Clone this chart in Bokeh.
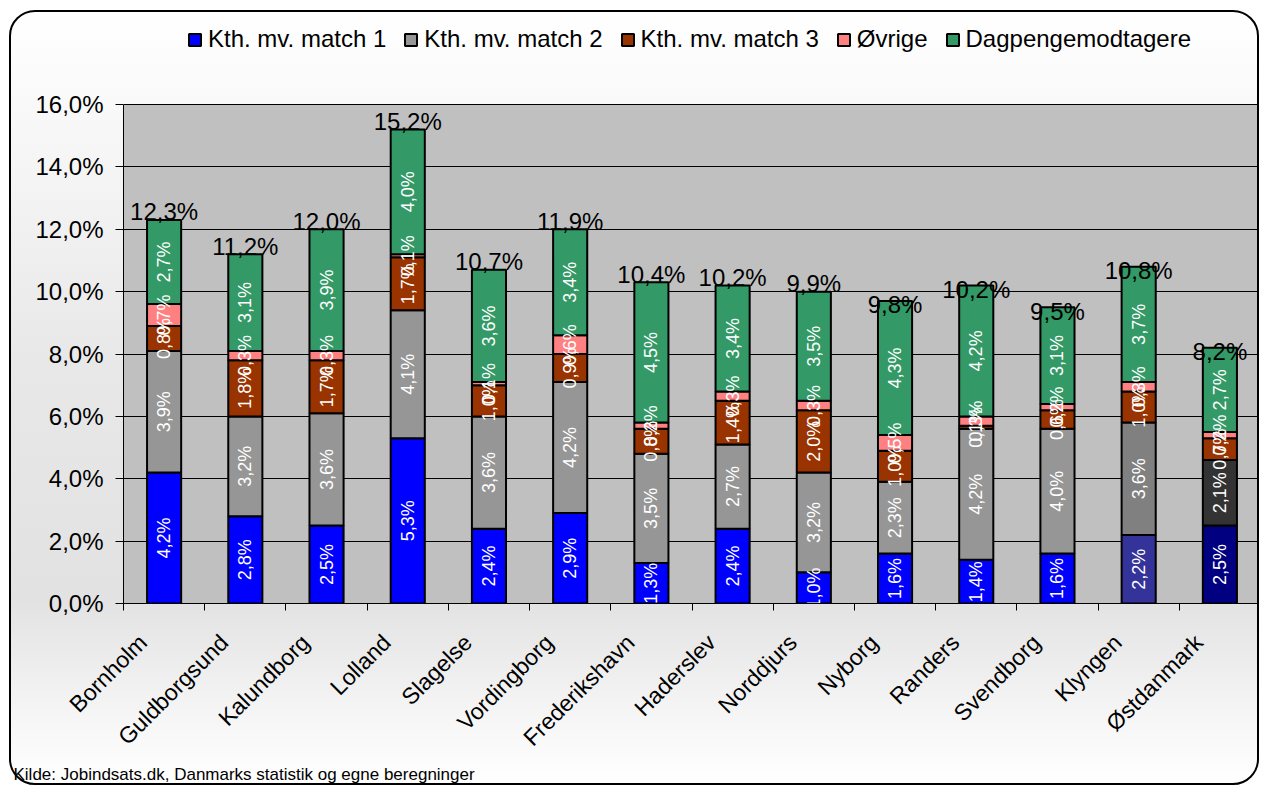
import math
import numpy as np
from bokeh.plotting import figure
from bokeh.models import (ColumnDataSource, Range1d, FixedTicker, Legend,
                          LegendItem, Title)
from bokeh.core.properties import value
from bokeh.embed import file_html
from bokeh.resources import INLINE

# ---------------- data ----------------
categories = ["Bornholm", "Guldborgsund", "Kalundborg", "Lolland", "Slagelse",
              "Vordingborg", "Frederikshavn", "Haderslev", "Norddjurs", "Nyborg",
              "Randers", "Svendborg", "Klyngen", "Østdanmark"]
series_names = ["Kth. mv. match 1", "Kth. mv. match 2", "Kth. mv. match 3",
                "Øvrige", "Dagpengemodtagere"]
match1 = [4.2, 2.8, 2.5, 5.3, 2.4, 2.9, 1.3, 2.4, 1.0, 1.6, 1.4, 1.6, 2.2, 2.5]
match2 = [3.9, 3.2, 3.6, 4.1, 3.6, 4.2, 3.5, 2.7, 3.2, 2.3, 4.2, 4.0, 3.6, 2.1]
match3 = [0.8, 1.8, 1.7, 1.7, 1.0, 0.9, 0.8, 1.4, 2.0, 1.0, 0.1, 0.6, 1.0, 0.7]
oevrige = [0.7, 0.3, 0.3, 0.1, 0.1, 0.6, 0.2, 0.3, 0.3, 0.5, 0.3, 0.2, 0.3, 0.2]
dagpenge = [2.7, 3.1, 3.9, 4.0, 3.6, 3.4, 4.5, 3.4, 3.5, 4.3, 4.2, 3.1, 3.7, 2.7]
totals = [12.3, 11.2, 12.0, 15.2, 10.7, 11.9, 10.4, 10.2, 9.9, 9.8, 10.2, 9.5, 10.8, 8.2]
y_ticks = [0, 2, 4, 6, 8, 10, 12, 14, 16]
source_text = "Kilde: Jobindsats.dk, Danmarks statistik og egne beregninger"

# ---------------- styles ----------------
FONT = "Liberation Sans"
n = len(categories)
series_colors = [
    ["#0000FF"] * 12 + ["#333399", "#000080"],
    ["#969696"] * 12 + ["#808080", "#333333"],
    ["#993300"] * n,
    ["#FF8080"] * n,
    ["#339966"] * n,
]
# vertical pixel offsets of total labels (as drawn in the original)
total_dy = [-8] * 9 + [4] * 5
LABEL_SHIFT = -0.26       # rotated category labels sit a little left of centre


def fmt(v):
    return f"{v:.1f}".replace(".", ",") + "%"


# layout (pixels, canvas coordinates)
W, H = 1250, 775
BORDER_TOP = 2            # frame starts near the top so the legend sits inside it
AXIS_TOP_PX = 92          # where the 16 % gridline lies
FRAME_BOTTOM_PX = 591
BORDER_BOTTOM = H - FRAME_BOTTOM_PX
y_max = y_ticks[-1]
y_end = y_max * (FRAME_BOTTOM_PX - BORDER_TOP) / (FRAME_BOTTOM_PX - AXIS_TOP_PX)

p = figure(width=W, height=H, output_backend="svg", toolbar_location=None,
           x_range=Range1d(0, n), y_range=Range1d(0, y_end),
           min_border_left=112, min_border_right=1,
           min_border_top=BORDER_TOP, min_border_bottom=BORDER_BOTTOM)
p.border_fill_color = None
p.background_fill_color = None
p.outline_line_color = None
p.styles = {
    "margin": "10px 0px 0px 9px",
    "border": "2px solid #000000",
    "border-radius": "26px",
    "background": "linear-gradient(180deg, #ffffff 0%, #fafafa 10%, #e8e8e8 45%, #e2e2e2 76%, #f4f4f4 90%, #ffffff 100%)",
}

# plot area background (grey box of the value range)
p.quad(left=0, right=n, bottom=0, top=y_max, fill_color="#C0C0C0",
       line_color=None, level="image")

# grid
p.xgrid.visible = False
p.ygrid.grid_line_color = "black"
p.ygrid.grid_line_width = 1
p.ygrid.ticker = FixedTicker(ticks=y_ticks)

# y axis
p.yaxis.ticker = FixedTicker(ticks=y_ticks)
p.yaxis.bounds = (0, y_max)
p.yaxis.major_label_overrides = {t: fmt(t) for t in y_ticks}
p.yaxis.major_label_text_font = FONT
p.yaxis.major_label_text_font_size = "24px"
p.yaxis.major_label_text_color = "black"
p.yaxis.major_tick_out = 8
p.yaxis.major_tick_in = 0
p.yaxis.minor_tick_line_color = None
p.yaxis.axis_line_color = "black"
p.yaxis.major_tick_line_color = "black"
p.yaxis.major_label_standoff = 12

# x axis
xs = [i + 0.5 for i in range(n)]
xlab = [x + LABEL_SHIFT for x in xs]
p.xaxis.ticker = FixedTicker(ticks=xlab, minor_ticks=list(range(n + 1)))
p.xaxis.major_label_overrides = {x: c for x, c in zip(xlab, categories)}
p.xaxis.major_label_orientation = math.pi / 4
p.xaxis.major_label_text_font = FONT
p.xaxis.major_label_text_font_size = "23px"
p.xaxis.major_label_text_color = "black"
p.xaxis.major_tick_out = 0
p.xaxis.major_tick_in = 0
p.xaxis.minor_tick_out = 7
p.xaxis.minor_tick_in = 0
p.xaxis.minor_tick_line_color = "black"
p.xaxis.axis_line_color = "black"
p.xaxis.major_label_standoff = 28

# stacked bars
series_vals = [match1, match2, match3, oevrige, dagpenge]
bottom = np.zeros(n)
renderers = []
label_sources = []
for vals, cols in zip(series_vals, series_colors):
    v = np.array(vals, dtype=float)
    top = bottom + v
    src = ColumnDataSource(dict(x=xs, bottom=bottom.copy(), top=top.copy(),
                                mid=(bottom + top) / 2, color=cols,
                                lbl=[fmt(a) for a in vals]))
    r = p.vbar(x="x", width=0.42, bottom="bottom", top="top", source=src,
               fill_color="color", line_color="black", line_width=2)
    renderers.append(r)
    label_sources.append(src)
    bottom = top

for src in label_sources:
    p.text(x="x", y="mid", text="lbl", source=src, angle=math.pi / 2,
           text_align="center", text_baseline="middle", text_color="white",
           text_font=value(FONT), text_font_size="18px")

tot_src = ColumnDataSource(dict(x=xs, y=bottom, lbl=[fmt(t) for t in totals],
                                dy=total_dy))
p.text(x="x", y="y", text="lbl", source=tot_src, y_offset="dy",
       text_align="center", text_baseline="alphabetic", text_color="black",
       text_font=value(FONT), text_font_size="24px")

# legend (inside the extended frame, above the grey plot area)
legend = Legend(items=[LegendItem(label=nm, renderers=[r], index=0)
                       for nm, r in zip(series_names, renderers)],
                orientation="horizontal", location=(64, 550),
                glyph_width=15, glyph_height=15, label_standoff=6, spacing=17,
                padding=0, margin=0, border_line_color=None,
                background_fill_alpha=0,
                label_text_font=FONT, label_text_font_size="24px",
                label_text_color="black")
p.add_layout(legend, "center")

# source note (bottom panel)
p.add_layout(Title(text=source_text, align="left", offset=-110, standoff=0,
                   text_font=FONT, text_font_size="17px",
                   text_font_style="normal", text_color="black"), "below")

open("out.html", "w").write(file_html(p, INLINE))
